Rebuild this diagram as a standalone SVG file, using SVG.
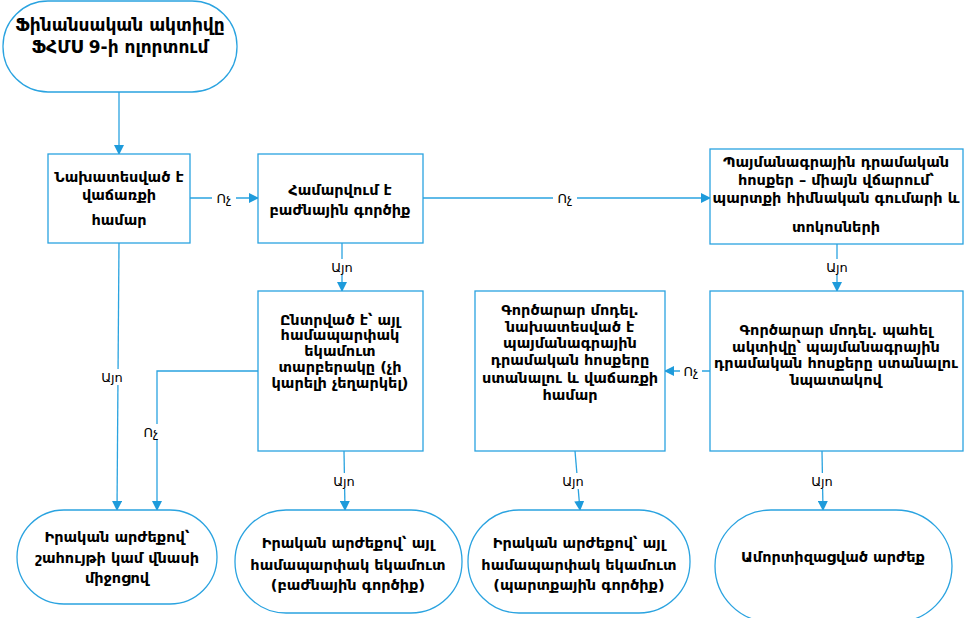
<svg xmlns="http://www.w3.org/2000/svg" width="969" height="618" viewBox="0 0 969 618">
<defs>
<marker id="ah" markerWidth="10" markerHeight="10" refX="9" refY="5" orient="auto" markerUnits="userSpaceOnUse">
<path d="M0,0 L10,5 L0,10 Z" fill="#1E9BDB"/>
</marker>
<style>
.box{fill:#fff;stroke:#2AA3E0;stroke-width:1.3}
.ln{fill:none;stroke:#2AA3E0;stroke-width:1.3}
.t{font-family:"DejaVu Sans",sans-serif;font-size:14.5px;font-weight:bold;fill:#000;text-anchor:middle}
.big{font-size:17px}
.lb{font-family:"DejaVu Sans",sans-serif;font-size:13px;fill:#000;text-anchor:middle}
.bg{fill:#fff}
</style>
</defs>
<rect width="969" height="618" fill="#fff"/>
<g id="connectors">
<line class="ln" x1="119" y1="92" x2="119" y2="154" marker-end="url(#ah)"/>
<line class="ln" x1="190" y1="198" x2="258" y2="198" marker-end="url(#ah)"/>
<line class="ln" x1="423" y1="198" x2="710" y2="198" marker-end="url(#ah)"/>
<line class="ln" x1="342" y1="243" x2="342" y2="291" marker-end="url(#ah)"/>
<line class="ln" x1="837" y1="244" x2="837" y2="291" marker-end="url(#ah)"/>
<line class="ln" x1="710" y1="371" x2="665" y2="371" marker-end="url(#ah)"/>
<line class="ln" x1="119" y1="243" x2="117" y2="510" marker-end="url(#ah)"/>
<polyline class="ln" points="258,371 157,371 157,510" marker-end="url(#ah)"/>
<line class="ln" x1="344" y1="451" x2="345" y2="510" marker-end="url(#ah)"/>
<line class="ln" x1="575" y1="451" x2="580" y2="510" marker-end="url(#ah)"/>
<line class="ln" x1="822" y1="451" x2="823" y2="510" marker-end="url(#ah)"/>
<rect class="bg" x="212" y="190" width="24" height="16"/>
<text class="lb" x="224" y="203">Ոչ</text>
<rect class="bg" x="553" y="190" width="24" height="16"/>
<text class="lb" x="565" y="203">Ոչ</text>
<rect class="bg" x="680" y="363" width="22" height="16"/>
<text class="lb" x="691" y="376">Ոչ</text>
<rect class="bg" x="140" y="424" width="22" height="16"/>
<text class="lb" x="151" y="437">Ոչ</text>
<rect class="bg" x="328" y="259" width="28" height="16"/>
<text class="lb" x="342" y="272">Այո</text>
<rect class="bg" x="823" y="259" width="28" height="16"/>
<text class="lb" x="837" y="272">Այո</text>
<rect class="bg" x="98" y="369" width="28" height="16"/>
<text class="lb" x="112" y="382">Այո</text>
<rect class="bg" x="330" y="473" width="28" height="16"/>
<text class="lb" x="344" y="486">Այո</text>
<rect class="bg" x="559" y="473" width="28" height="16"/>
<text class="lb" x="573" y="486">Այո</text>
<rect class="bg" x="808" y="473" width="28" height="16"/>
<text class="lb" x="822" y="486">Այո</text>
</g>
<g id="start">
<rect class="box" x="3" y="1" width="234" height="91" rx="45" ry="45"/>
<text class="t big" x="120" y="31">Ֆինանսական ակտիվը</text>
<text class="t big" x="120" y="53">ՖՀՄՍ 9-ի ոլորտում</text>
</g>
<g id="n1">
<rect class="box" x="48" y="154" width="142" height="89"/>
<text class="t" x="119" y="182">Նախատեսված է</text>
<text class="t" x="119" y="200">վաճառքի</text>
<text class="t" x="119" y="225">համար</text>
</g>
<g id="n2">
<rect class="box" x="258" y="154" width="165" height="89"/>
<text class="t" x="340" y="195">Համարվում է</text>
<text class="t" x="340" y="215">բաժնային գործիք</text>
</g>
<g id="n3">
<rect class="box" x="710" y="149" width="253" height="95"/>
<text class="t" x="836" y="167">Պայմանագրային դրամական</text>
<text class="t" x="836" y="185">հոսքեր – միայն վճարում՝</text>
<text class="t" x="836" y="203">պարտքի հիմնական գումարի և</text>
<text class="t" x="836" y="232">տոկոսների</text>
</g>
<g id="n4">
<rect class="box" x="258" y="291" width="165" height="160"/>
<text class="t" x="340" y="325">Ընտրված է՝ այլ</text>
<text class="t" x="340" y="340">համապարփակ</text>
<text class="t" x="340" y="356">եկամուտ</text>
<text class="t" x="340" y="372">տարբերակը (չի</text>
<text class="t" x="340" y="388">կարելի չեղարկել)</text>
</g>
<g id="n5">
<rect class="box" x="475" y="291" width="190" height="160"/>
<text class="t" x="570" y="315">Գործարար մոդել.</text>
<text class="t" x="570" y="332">նախատեսված է</text>
<text class="t" x="570" y="348">պայմանագրային</text>
<text class="t" x="570" y="365">դրամական հոսքերը</text>
<text class="t" x="570" y="383">ստանալու և վաճառքի</text>
<text class="t" x="570" y="400">համար</text>
</g>
<g id="n6">
<rect class="box" x="710" y="291" width="253" height="160"/>
<text class="t" x="836" y="335">Գործարար մոդել. պահել</text>
<text class="t" x="836" y="352">ակտիվը՝ պայմանագրային</text>
<text class="t" x="836" y="368">դրամական հոսքերը ստանալու</text>
<text class="t" x="836" y="385">նպատակով</text>
</g>
<g id="t1">
<rect class="box" x="17" y="510" width="200" height="94" rx="47" ry="47"/>
<text class="t" x="117" y="542">Իրական արժեքով՝</text>
<text class="t" x="117" y="563">շահույթի կամ վնասի</text>
<text class="t" x="117" y="583">միջոցով</text>
</g>
<g id="t2">
<rect class="box" x="235" y="510" width="227" height="103" rx="51" ry="51"/>
<text class="t" x="348" y="548">Իրական արժեքով՝ այլ</text>
<text class="t" x="348" y="570">համապարփակ եկամուտ</text>
<text class="t" x="348" y="590">(բաժնային գործիք)</text>
</g>
<g id="t3">
<rect class="box" x="468" y="510" width="222" height="103" rx="51" ry="51"/>
<text class="t" x="579" y="548">Իրական արժեքով՝ այլ</text>
<text class="t" x="579" y="570">համապարփակ եկամուտ</text>
<text class="t" x="579" y="590">(պարտքային գործիք)</text>
</g>
<g id="t4">
<rect class="box" x="715" y="510" width="237" height="112" rx="56" ry="56"/>
<text class="t" x="833" y="562">Ամորտիզացված արժեք</text>
</g>
</svg>
